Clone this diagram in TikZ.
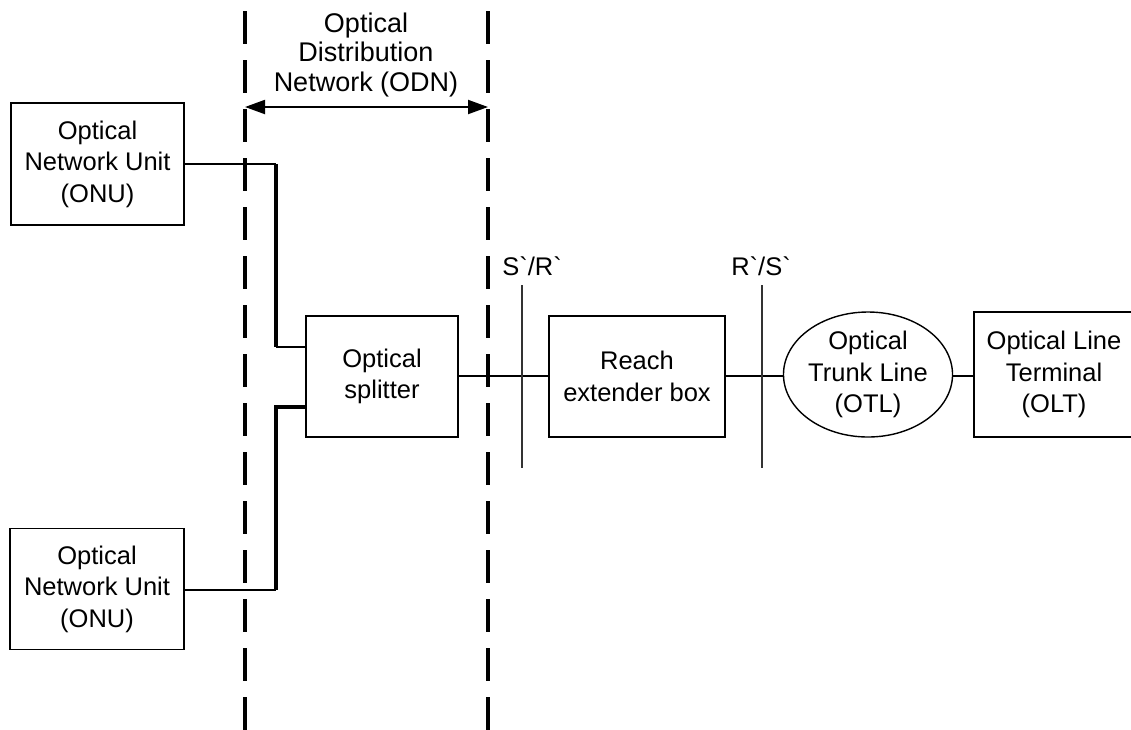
\documentclass[tikz,border=0pt]{standalone}
\usepackage{fontspec}
\setmainfont{Liberation Sans}
\usetikzlibrary{shapes.geometric,arrows.meta}
\tikzset{
  box/.style={draw, line width=1.4pt, rectangle, align=center, inner sep=0pt,
    font=\fontsize{25.5}{31.5}\selectfont},
  oval/.style={draw, line width=1.4pt, ellipse, align=center, inner sep=0pt,
    font=\fontsize{25.5}{31.5}\selectfont},
  conn/.style={line width=1.5pt},
  bus/.style={line width=4pt},
  refline/.style={line width=1.3pt, draw=black!80},
  odnline/.style={line width=4pt, dash pattern=on 33pt off 16pt},
  lbl/.style={inner sep=0pt, align=center, font=\fontsize{25.5}{31.5}\selectfont},
}
\begin{document}
\begin{tikzpicture}[x=1pt, y=-1pt]
\useasboundingbox (0,0) rectangle (1131,729);
\fill[white] (0,0) rectangle (1131,729);
% ODN dashed boundaries
\coordinate (dlT) at (245,11);
\coordinate (dlB) at (245,760);
\coordinate (drT) at (488,11);
\coordinate (drB) at (488,760);
\draw[odnline] (dlT) -- (dlB);
\draw[odnline] (drT) -- (drB);
% ODN label and arrow
\node[lbl, font=\fontsize{27}{29.5}\selectfont] (odn) at (366,55) {Optical\\Distribution\\Network (ODN)};
\coordinate (aL) at (245,107);
\coordinate (aR) at (488,107);
\draw[line width=2pt, {Triangle[length=20pt,width=14pt]}-{Triangle[length=20pt,width=14pt]}] (aL) -- (aR);
% boxes
\node[box, minimum width=173pt, minimum height=122pt] (onuA) at (97.5,164) {Optical\\Network Unit\\(ONU)};
\node[box, minimum width=174pt, minimum height=121pt] (onuB) at (97,589) {Optical\\Network Unit\\(ONU)};
\node[box, minimum width=152pt, minimum height=121pt] (split) at (382,376.5) {Optical\\splitter};
\node[box, minimum width=176pt, minimum height=121pt] (reach) at (637,376.5) {Reach\\extender box};
\node[oval, minimum width=152pt, minimum height=125pt] (otl) at (868,374.5) {Optical\\Trunk Line\\(OTL)};
\node[box, minimum width=160pt, minimum height=125pt] (olt) at (1054,374.5) {Optical Line\\Terminal\\(OLT)};
% ONU to splitter
\coordinate (j1) at (276,164);
\coordinate (j2) at (276,347);
\coordinate (j3) at (276,590);
\coordinate (j4) at (276,407);
\draw[conn] (onuA.east |- j1) -- (j1);
\draw[bus] (j1) -- (j2);
\draw[conn] (j2) -- (split.west |- j2);
\draw[conn] (onuB.east |- j3) -- (j3);
\draw[bus] (j3) -- (j4) -- (split.west |- j4);
% chain
\draw[conn] (split.east |- 0,376) -- (reach.west |- 0,376);
\draw[conn] (reach.east |- 0,376) -- (otl.west |- 0,376);
\draw[conn] (otl.east |- 0,376) -- (olt.west |- 0,376);
% reference points
\coordinate (r1T) at (522,285);
\coordinate (r1B) at (522,468);
\coordinate (r2T) at (762,285);
\coordinate (r2B) at (762,468);
\draw[refline] (r1T) -- (r1B);
\draw[refline] (r2T) -- (r2B);
\node[lbl] (sr) at (532,266) {S\textasciigrave/R\textasciigrave};
\node[lbl] (rs) at (761,266) {R\textasciigrave/S\textasciigrave};
\end{tikzpicture}
\end{document}
